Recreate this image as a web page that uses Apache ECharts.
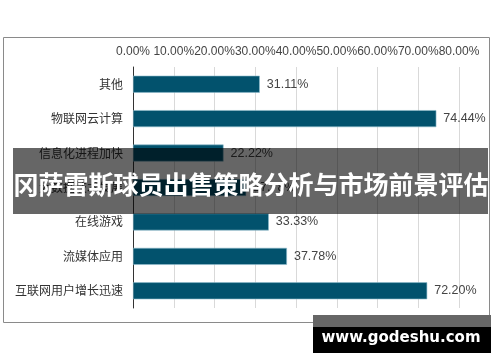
<!DOCTYPE html>
<html>
<head>
<meta charset="utf-8">
<script src="https://cdn.jsdelivr.net/npm/echarts@6/dist/echarts.min.js"></script>
<style>
html,body{margin:0;padding:0;background:#fff;}
#c{width:500px;height:362px;}
</style>
</head>
<body>
<div id="c"></div>
<script>
var categories = ['其他','物联网云计算','信息化进程加快','大数据技术发展','在线游戏','流媒体应用','互联网用户增长迅速'];
var values = [31.11, 74.44, 22.22, 27.78, 33.33, 37.78, 72.20];
var tickMin = 0, tickMax = 80, tickStep = 10;
var bannerTitle = '冈萨雷斯球员出售策略分析与市场前景评估';
var watermark = 'www.godeshu.com';

var chart = echarts.init(document.getElementById('c'), null, {renderer:'canvas'});
chart.setOption({
  animation:false,
  backgroundColor:'#fff',
  grid:{left:133, right:41, top:67, bottom:54, containLabel:false},
  xAxis:{
    type:'value', position:'top', min:tickMin, max:tickMax, interval:tickStep,
    axisLine:{show:false}, axisTick:{show:false},
    splitLine:{show:true, lineStyle:{color:'#d9d9d9', width:1}},
    axisLabel:{color:'#444', fontSize:12, fontFamily:'Liberation Sans, Arial, sans-serif', margin:9,
      showMinLabel:true, showMaxLabel:true, hideOverlap:false,
      formatter:function(v){return v.toFixed(2)+'%';}}
  },
  yAxis:{
    type:'category', data:categories, inverse:true,
    axisLine:{show:true, lineStyle:{color:'#333', width:1}},
    axisTick:{show:false},
    axisLabel:{color:'#333', fontSize:12, fontFamily:'Noto Sans CJK SC, sans-serif', margin:10}
  },
  series:[{
    type:'bar', data:values, barWidth:17,
    itemStyle:{color:'#02526d', borderColor:'#8fbccd', borderWidth:0.6},
    label:{show:true, position:'right', distance:7, color:'#444', fontSize:12.5,
      fontFamily:'Liberation Sans, Arial, sans-serif',
      formatter:function(p){return p.value.toFixed(2)+'%';}}
  }],
  graphic:[
    {type:'rect', z:100, shape:{x:3.5, y:37.5, width:486, height:285}, style:{fill:'none', stroke:'#8a8a8a', lineWidth:1}},
    {type:'rect', z:101, shape:{x:13, y:148, width:475, height:66}, style:{fill:'rgba(0,0,0,0.6)'}},
    {type:'text', z:102, x:251, y:184, style:{text:bannerTitle, fill:'#fff', font:'bold 25px "Noto Sans CJK SC", sans-serif', align:'center', verticalAlign:'middle'}},
    {type:'rect', z:101, shape:{x:313, y:315, width:178, height:12}, style:{fill:'#666'}},
    {type:'rect', z:101, shape:{x:313, y:327, width:178, height:26}, style:{fill:'#000'}},
    {type:'text', z:102, x:401, y:338, style:{text:watermark, fill:'#fff', font:'bold 15px "DejaVu Sans", sans-serif', align:'center', verticalAlign:'middle'}}
  ]
});
</script>
</body>
</html>
